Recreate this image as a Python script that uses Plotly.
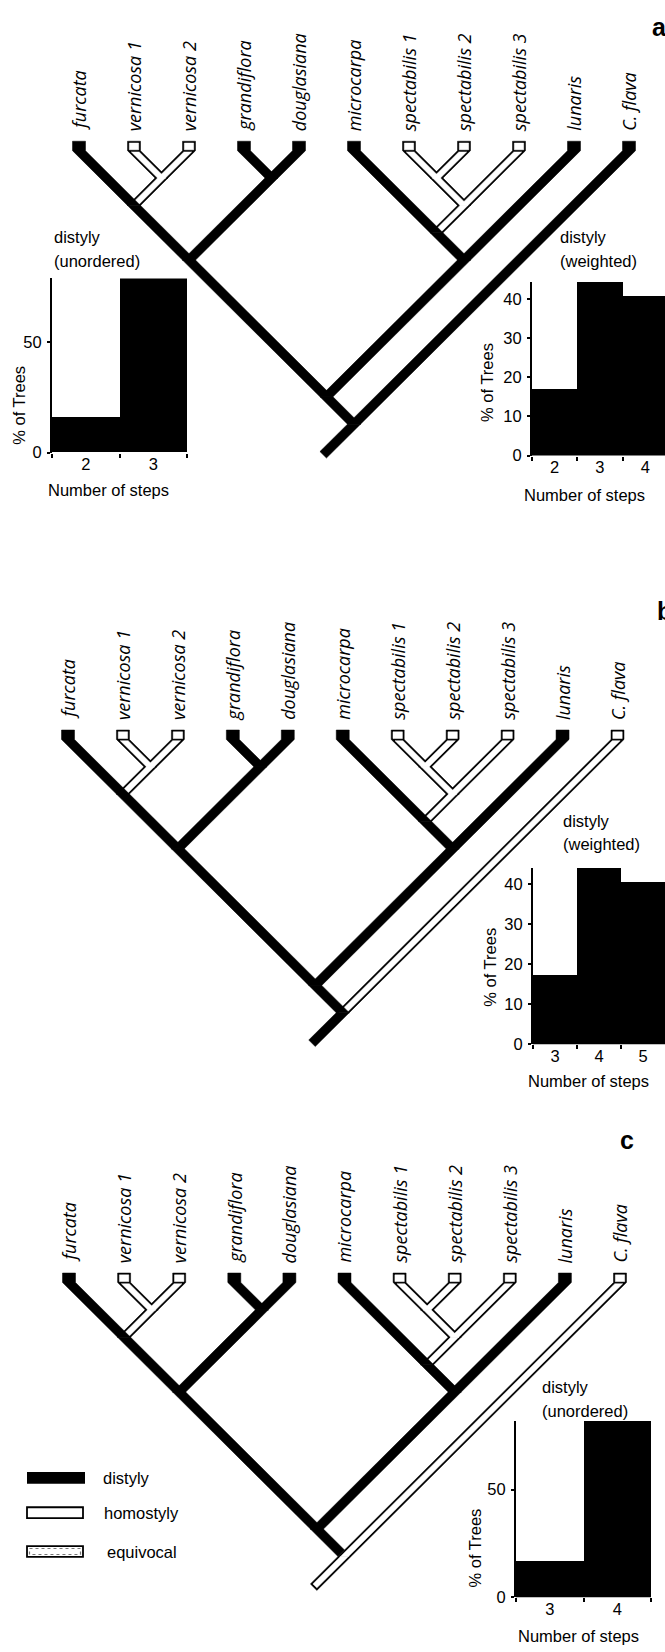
import math
import plotly.graph_objects as go

# ------------------------------------------------------------------ data
TAXA = ["furcata", "vernicosa 1", "vernicosa 2", "grandiflora", "douglasiana",
        "microcarpa", "spectabilis 1", "spectabilis 2", "spectabilis 3",
        "lunaris", "C. flava"]
# cladogram topology (indices into TAXA)
TREE = ((((0, (1, 2)), (3, 4)), ((5, ((6, 7), 8)), 9)), 10)

# branches reconstructed as homostylous (all other branches: distyly)
HOMO_A = [["vernicosa 1"], ["vernicosa 2"], ["vernicosa 1", "vernicosa 2"],
          ["spectabilis 1"], ["spectabilis 2"], ["spectabilis 3"],
          ["spectabilis 1", "spectabilis 2"],
          ["spectabilis 1", "spectabilis 2", "spectabilis 3"]]
HOMO_B = HOMO_A + [["C. flava"]]
HOMO_C = HOMO_B + [TAXA]          # root stem homostylous in c

STEPS_A_UNORD = ["2", "3"]
PCT_A_UNORD = [16, 79]
STEPS_A_WEIGHT = ["2", "3", "4"]
PCT_A_WEIGHT = [17.1, 44.4, 40.8]
STEPS_B_WEIGHT = ["3", "4", "5"]
PCT_B_WEIGHT = [17.4, 44.1, 40.6]
STEPS_C_UNORD = ["3", "4"]
PCT_C_UNORD = [17, 82]

LEGEND_LABELS = ["distyly", "homostyly", "equivocal"]
PANEL_LETTERS = ["a", "b", "c"]

# ------------------------------------------------------------------ layout constants
FW, FH = 665, 1652
BW = 13.0          # horizontal width of a branch band
HB = BW / 2
T = 1.8            # outline thickness of open branches
SQ = 9.5           # height of leaf square
STUB = 0.56        # root stub length (in leaf spacings)
LABEL_FONT = dict(family="Open Sans", size=18, color="black", style="italic")
SANS = "Liberation Sans"
TXT = 16.5

PANELS = [
    dict(x0=79, s=55.0, ytop=142, homo=HOMO_A),
    dict(x0=68, s=54.95, ytop=734, homo=HOMO_B),
    dict(x0=69, s=55.1, ytop=1280, homo=HOMO_C),
]


def leaves(node):
    if isinstance(node, int):
        return [node]
    return leaves(node[0]) + leaves(node[1])


def key(node):
    return frozenset(TAXA[i] for i in leaves(node))


def walk(node, parent=None, side=1, out=None):
    if out is None:
        out = []
    out.append((node, parent, side))
    if not isinstance(node, int):
        walk(node[0], node, 0, out)
        walk(node[1], node, 1, out)
    return out


def nid(n):
    return ("leaf", n) if isinstance(n, int) else id(n)


fig = go.Figure()
black_polys, outer_polys, inner_polys = [], [], []
annotations = []

for P in PANELS:
    homo = {frozenset(h) for h in P["homo"]}
    yb = P["ytop"] + SQ

    def pos(node, P=P, yb=yb):
        lv = leaves(node)
        L, R = min(lv), max(lv)
        return P["x0"] + P["s"] * (L + R) / 2, yb + P["s"] * (R - L) / 2

    def state(node, homo=homo):
        return "H" if key(node) in homo else "D"

    nodes = walk(TREE)
    side_of = {nid(n): s for n, p, s in nodes}

    for node, parent, side in nodes:
        if parent is None:
            continue
        xc, yc = pos(node)
        xp, yp = pos(parent)
        st = state(node)
        is_leaf = isinstance(node, int)
        colinear = (side == side_of[nid(parent)])
        sibling = parent[1 - side]
        clip = (st == "D" and not colinear and state(sibling) == "H" and state(parent) == "H")
        if is_leaf:
            pts = [(xc - HB, P["ytop"]), (xc + HB, P["ytop"]), (xc + HB, yb)]
        else:
            pts = [(xc - HB, yc), (xc + HB, yc)]
        if clip:
            if side == 0:
                pts += [(xp, yp - HB), (xp - HB, yp)]
            else:
                pts += [(xp + HB, yp), (xp, yp - HB)]
        else:
            pts += [(xp + HB, yp), (xp - HB, yp)]
        if is_leaf:
            pts.append((xc - HB, yb))
        if st == "D":
            black_polys.append(pts)
        else:
            outer_polys.append(pts)
            hi = HB - T * math.sqrt(2)
            dirx = 1 if side == 0 else -1
            if is_leaf:
                inner_polys.append([(xc - HB + T, P["ytop"] + T), (xc + HB - T, P["ytop"] + T),
                                    (xc + HB - T, yb - 0.5 * T), (xc - HB + T, yb - 0.5 * T)])
                ys = yb + 0.7 * T
                xs = xc + dirx * (ys - yb)
                inner_polys.append([(xs - hi, ys), (xs + hi, ys), (xp + hi, yp), (xp - hi, yp)])
            else:
                inner_polys.append([(xc - hi, yc), (xc + hi, yc), (xp + hi, yp), (xp - hi, yp)])

    # root stub (down-left)
    xr, yr = pos(TREE)
    L = STUB * P["s"]
    ex, ey = xr - L, yr + L
    stub = [(xr - HB, yr), (xr + HB, yr), (ex + HB / 2, ey + HB / 2), (ex - HB / 2, ey - HB / 2)]
    if state(TREE) == "D":
        black_polys.append(stub)
    else:
        outer_polys.append(stub)
        hi = HB - T * math.sqrt(2)
        ex2, ey2 = ex + T / math.sqrt(2), ey - T / math.sqrt(2)
        inner_polys.append([(xr - hi, yr), (xr + hi, yr), (ex2 + hi / 2, ey2 + hi / 2),
                            (ex2 - hi / 2, ey2 - hi / 2)])

    # taxon labels
    for i, name in enumerate(TAXA):
        annotations.append(dict(
            x=P["x0"] + P["s"] * i, y=P["ytop"] - 8, xref="x", yref="y",
            text=name, textangle=-90, showarrow=False,
            xanchor="center", yanchor="bottom", font=LABEL_FONT))


def add_polys(polys, color):
    for pts in polys:
        xs = [p[0] for p in pts] + [pts[0][0]]
        ys = [p[1] for p in pts] + [pts[0][1]]
        fig.add_trace(go.Scatter(x=xs, y=ys, mode="lines", fill="toself",
                                 fillcolor=color, line=dict(color=color, width=0.5),
                                 hoverinfo="skip", showlegend=False,
                                 xaxis="x", yaxis="y"))


add_polys(outer_polys, "black")
add_polys(inner_polys, "white")
add_polys(black_polys, "black")

# ------------------------------------------------------------------ panel letters (cut at the right edge like the original)
LETTER_POS = [(652, 30), (657, 617), (620, 1149)]
fig.add_trace(go.Scatter(
    x=[p[0] for p in LETTER_POS], y=[p[1] for p in LETTER_POS], mode="text",
    text=PANEL_LETTERS, textposition="middle right", cliponaxis=False,
    textfont=dict(family=SANS, size=25, color="black", weight="bold"),
    hoverinfo="skip", showlegend=False, xaxis="x", yaxis="y"))

# ------------------------------------------------------------------ histograms
HISTS = [
    dict(steps=STEPS_A_UNORD, pct=PCT_A_UNORD, x0=52, x1=187, bw=67.5, y0=455, y1=280,
         ticks=[0, 50], t1="distyly", t2="(unordered)", tx=52, ty=238,
         ytitle=(19, 408), xtitle=(108, 493)),
    dict(steps=STEPS_A_WEIGHT, pct=PCT_A_WEIGHT, x0=532, x1=665, bw=45.3, y0=458, y1=283.5,
         ticks=[0, 10, 20, 30, 40], t1="distyly", t2="(weighted)", tx=558, ty=238,
         ytitle=(487, 385), xtitle=(584, 498)),
    dict(steps=STEPS_B_WEIGHT, pct=PCT_B_WEIGHT, x0=533, x1=665, bw=44.0, y0=1050, y1=872.5,
         ticks=[0, 10, 20, 30, 40], t1="distyly", t2="(weighted)", tx=561, ty=825,
         ytitle=(490, 973), xtitle=(588, 1087)),
    dict(steps=STEPS_C_UNORD, pct=PCT_C_UNORD, x0=516, x1=651, bw=67.5, y0=1606, y1=1428.4,
         ticks=[0, 50], t1="distyly", t2="(unordered)", tx=540, ty=1395,
         ytitle=(475, 1557), xtitle=(578, 1645)),
]

TICKFONT = dict(family=SANS, size=TXT, color="black")
TXTFONT = dict(family=SANS, size=TXT, color="black")
layout_axes = {}
for k, Hh in enumerate(HISTS, start=2):
    fig.add_trace(go.Bar(x=Hh["steps"], y=Hh["pct"], marker=dict(color="black", line=dict(width=0)),
                         xaxis=f"x{k}", yaxis=f"y{k}", showlegend=False, hoverinfo="skip"))
    xr1 = -0.5 + (Hh["x1"] - Hh["x0"]) / Hh["bw"]
    layout_axes[f"xaxis{k}"] = dict(
        domain=[Hh["x0"] / FW, min(1.0, Hh["x1"] / FW)], anchor=f"y{k}",
        type="category", categoryorder="array", categoryarray=Hh["steps"],
        range=[-0.5, xr1], tickson="boundaries", ticks="outside", ticklen=4,
        tickwidth=1.5, tickcolor="black", showline=False, showgrid=False,
        zeroline=False, tickfont=TICKFONT, fixedrange=True)
    layout_axes[f"yaxis{k}"] = dict(
        domain=[1 - Hh["y0"] / FH, 1 - Hh["y1"] / FH], anchor=f"x{k}",
        range=[0, max(Hh["pct"])], tickvals=Hh["ticks"], ticks="outside", ticklen=3,
        tickwidth=1.5, tickcolor="black", showline=True, linewidth=2, linecolor="black",
        showgrid=False, zeroline=False, tickfont=TICKFONT, ticklabelstandoff=2,
        fixedrange=True)
    annotations += [
        dict(x=Hh["tx"], y=Hh["ty"], xref="x", yref="y", text=Hh["t1"], showarrow=False,
             xanchor="left", yanchor="middle", font=TXTFONT),
        dict(x=Hh["tx"], y=Hh["ty"] + 24, xref="x", yref="y", text=Hh["t2"], showarrow=False,
             xanchor="left", yanchor="middle", font=TXTFONT),
        dict(x=Hh["ytitle"][0], y=Hh["ytitle"][1], xref="x", yref="y", text="% of Trees",
             textangle=-90, showarrow=False, xanchor="center", yanchor="middle", font=TXTFONT),
        dict(x=Hh["xtitle"][0], y=Hh["xtitle"][1], xref="x", yref="y", text="Number of steps",
             showarrow=False, xanchor="center", yanchor="middle", font=TXTFONT),
    ]

# ------------------------------------------------------------------ legend (panel c)
shapes = []
leg_y = [1486, 1521, 1560]
shapes.append(dict(type="rect", xref="x", yref="y", x0=27, x1=85, y0=leg_y[0] - 6, y1=leg_y[0] + 6,
                   fillcolor="black", line=dict(width=0)))
shapes.append(dict(type="rect", xref="x", yref="y", x0=27, x1=83, y0=leg_y[1] - 5.5, y1=leg_y[1] + 5.5,
                   fillcolor="white", line=dict(color="black", width=1.8)))
shapes.append(dict(type="rect", xref="x", yref="y", x0=27, x1=83, y0=leg_y[2] - 5.5, y1=leg_y[2] + 5.5,
                   fillcolor="white", line=dict(color="black", width=1.8)))
shapes.append(dict(type="rect", xref="x", yref="y", x0=29.5, x1=80.5, y0=leg_y[2] - 3, y1=leg_y[2] + 3,
                   fillcolor="white", line=dict(color="#777777", width=1.2, dash="dot")))
for lab, ly, lx in zip(LEGEND_LABELS, leg_y, [101, 102, 105]):
    annotations.append(dict(x=lx, y=ly, xref="x", yref="y", text=lab, showarrow=False,
                            xanchor="left", yanchor="middle", font=TXTFONT))

fig.update_layout(
    width=FW, height=FH, margin=dict(l=0, r=0, t=0, b=0),
    paper_bgcolor="white", plot_bgcolor="rgba(0,0,0,0)",
    bargap=0, showlegend=False,
    xaxis=dict(domain=[0, 1], range=[0, FW], visible=False, fixedrange=True),
    yaxis=dict(domain=[0, 1], range=[FH, 0], visible=False, fixedrange=True),
    annotations=annotations, shapes=shapes,
    **layout_axes,
)

fig.write_html("out.html", config={"displayModeBar": False},
               post_script="document.body.style.margin='0px'; document.body.style.overflow='hidden';")
